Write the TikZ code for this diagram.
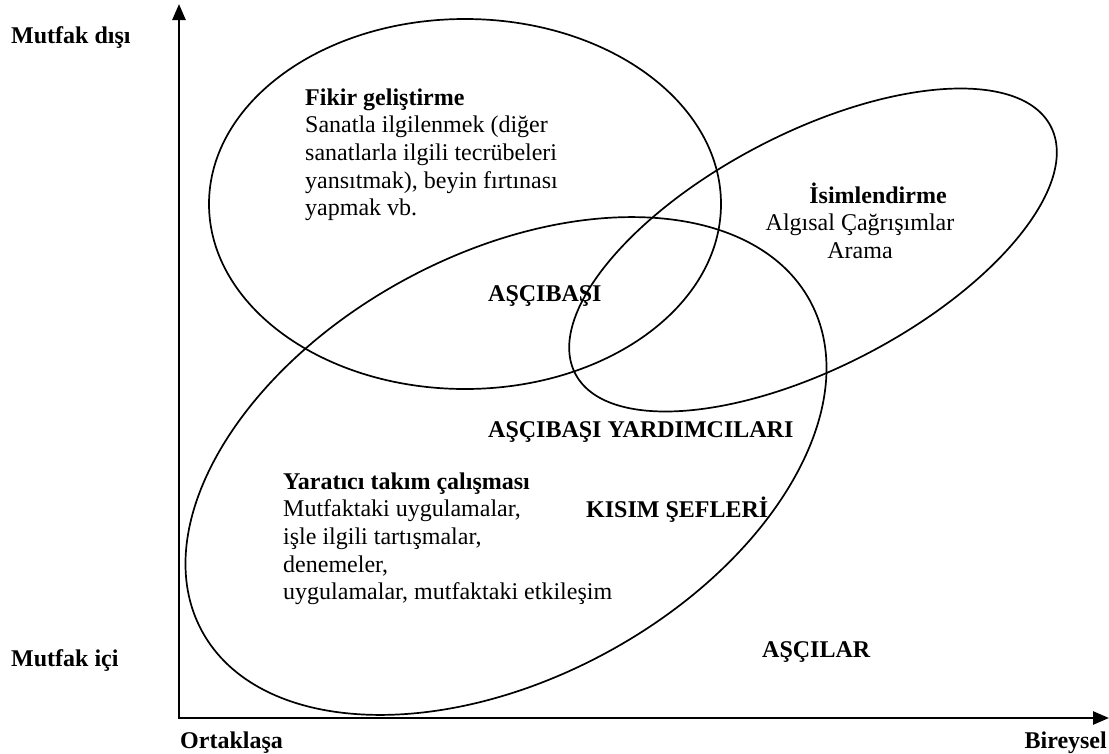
\documentclass[tikz,border=0pt]{standalone}
\usepackage{fontspec}
\setmainfont{Liberation Serif}
\usetikzlibrary{arrows.meta}
% invisible rule fixing the height of the first line of a text block
\newcommand\firstlinestrut{\rule{0pt}{22pt}}
\begin{document}
\begin{tikzpicture}[x=1pt,y=-1pt,
  axis/.style={line width=2.6pt, line join=miter,
    {Triangle[length=16pt,width=13pt]}-{Triangle[length=16pt,width=13pt]}},
  zone/.style={line width=1.7pt},
  every node/.style={inner sep=0pt, font=\fontsize{24}{27.6}\selectfont},
  tag/.style={font=\fontsize{24}{27.6}\selectfont\bfseries, anchor=base west},
  block/.style={align=left, anchor=north west},
]
\useasboundingbox (0,0) rectangle (1109,753);

% axes
\coordinate (ytip) at (179,4);
\coordinate (origin) at (179,718);
\coordinate (xtip) at (1109,718);
\draw[axis] (ytip) -- (origin) -- (xtip);

% axis labels
\node[tag] (outside) at (11,43) {Mutfak dışı};
\node[tag] (inside) at (11,666) {Mutfak içi};
\node[tag] (shared) at (180,748) {Ortaklaşa};
\node[tag, anchor=base east] (single) at (1107,748) {Bireysel};

% overlapping areas
\draw[zone] (465,204) ellipse [x radius=256, y radius=185];
\draw[zone, rotate around={28.5:(506,466)}] (506,466) ellipse [x radius=346, y radius=212];
\draw[zone, rotate around={27.5:(813,250)}] (813,250) ellipse [x radius=268, y radius=117];

% area descriptions
\node[block] (idea) at (305,83) {\firstlinestrut\textbf{Fikir geliştirme}\\
  Sanatla ilgilenmek (diğer\\
  sanatlarla ilgili tecrübeleri\\
  yansıtmak), beyin fırtınası\\
  yapmak vb.};
\node[align=center, anchor=north] (naming) at (860,181) {\firstlinestrut\hspace*{36pt}\textbf{İsimlendirme}\\
  Algısal Çağrışımlar\\
  Arama};
\node[block] (team) at (283,467) {\firstlinestrut\textbf{Yaratıcı takım çalışması}\\
  Mutfaktaki uygulamalar,\\
  işle ilgili tartışmalar,\\
  denemeler,\\
  uygulamalar, mutfaktaki etkileşim};

% kitchen roles
\node[tag] (chef) at (488,301) {AŞÇIBAŞI};
\node[tag] (sous) at (488,437) {AŞÇIBAŞI YARDIMCILARI};
\node[tag] (partie) at (586,517) {KISIM ŞEFLERİ};
\node[tag] (cooks) at (762,657) {AŞÇILAR};
\end{tikzpicture}
\end{document}
